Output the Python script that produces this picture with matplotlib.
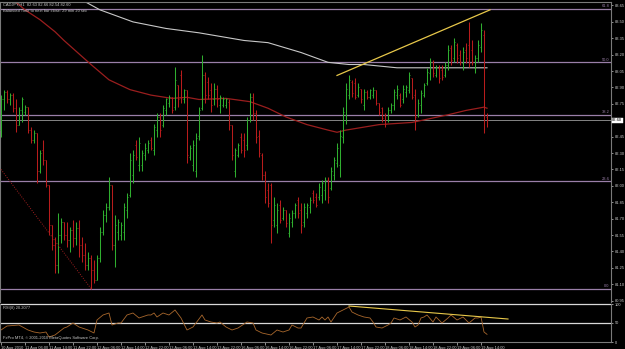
import matplotlib
matplotlib.use("Agg")
import matplotlib.pyplot as plt
import numpy as np

plt.rcParams["font.family"] = ["Liberation Sans", "DejaVu Sans"]

# ---------------- data (CADJPY H1, bar 0 = 10 Aug 2010 22:00) ----------------
opens = [82.51, 82.79, 82.86, 82.79, 82.83, 82.71, 82.56, 82.69, 82.68, 82.72,
         82.51, 82.42, 82.48, 82.14, 82.33, 82.24, 82.01, 81.64, 81.46, 81.28,
         81.55, 81.67, 81.55, 81.50, 81.60, 81.52, 81.61, 81.46, 81.37, 81.28,
         81.34, 81.23, 81.14, 81.34, 81.58, 81.73, 81.81, 82.01, 81.46, 81.58,
         81.55, 81.58, 81.78, 81.92, 82.10, 82.37, 82.19, 82.19, 82.28, 82.33,
         82.42, 82.33, 82.51, 82.63, 82.56, 82.69, 82.76, 82.81, 82.72, 82.92,
         83.01, 82.79, 82.88, 82.26, 82.19, 82.14, 82.46, 82.71, 83.01, 82.95,
         82.88, 82.79, 82.89, 82.74, 82.74, 82.74, 82.77, 82.56, 82.14, 82.28,
         82.45, 82.42, 82.37, 82.60, 82.81, 82.67, 82.46, 82.28, 82.10, 81.96,
         82.01, 81.69, 81.64, 81.82, 81.71, 81.78, 81.57, 81.67, 81.75, 81.87,
         81.78, 81.67, 81.75, 81.81, 81.93, 81.90, 81.90, 81.92, 81.96, 82.05,
         81.98, 82.10, 82.21, 82.19, 82.45, 82.65, 82.83, 82.95, 82.94, 82.83,
         82.89, 82.74, 82.86, 82.81, 82.83, 82.88, 82.76, 82.71, 82.65, 82.60,
         82.69, 82.74, 82.83, 82.83, 82.79, 82.86, 82.88, 82.99, 82.83, 82.65,
         82.74, 82.83, 82.94, 83.03, 83.13, 83.01, 83.08, 83.06, 83.01, 83.11,
         83.26, 83.17, 83.29, 83.20, 83.12, 83.24, 83.29, 83.24, 83.08, 83.17,
         83.27, 83.38, 82.63]
highs = [82.83, 82.88, 82.88, 82.85, 82.85, 82.79, 82.72, 82.81, 82.74, 82.72,
         82.54, 82.51, 82.48, 82.33, 82.42, 82.24, 82.01, 81.64, 81.53, 81.75,
         81.71, 81.67, 81.67, 81.62, 81.69, 81.67, 81.69, 81.53, 81.48, 81.39,
         81.37, 81.32, 81.37, 81.62, 81.78, 81.84, 82.08, 82.01, 81.73, 81.70,
         81.67, 81.84, 81.93, 82.30, 82.33, 82.42, 82.45, 82.33, 82.39, 82.42,
         82.45, 82.57, 82.67, 82.67, 82.74, 82.80, 82.83, 82.81, 83.09, 82.92,
         83.06, 82.89, 82.88, 82.37, 82.42, 82.48, 82.72, 83.20, 83.04, 83.00,
         82.94, 82.94, 82.92, 82.83, 82.81, 82.80, 82.79, 82.56, 82.35, 82.39,
         82.48, 82.48, 82.63, 82.85, 82.85, 82.69, 82.51, 82.30, 82.14, 82.03,
         82.03, 81.90, 81.84, 81.87, 81.81, 81.78, 81.75, 81.78, 81.84, 81.90,
         81.84, 81.84, 81.84, 81.90, 81.96, 81.93, 82.03, 82.05, 82.08, 82.08,
         82.17, 82.26, 82.39, 82.51, 82.72, 82.94, 83.01, 82.97, 82.99, 82.94,
         82.89, 82.89, 82.88, 82.89, 82.90, 82.88, 82.76, 82.72, 82.67, 82.72,
         82.76, 82.89, 82.92, 82.85, 82.92, 82.92, 83.04, 82.99, 82.89, 82.79,
         82.88, 82.94, 83.08, 83.17, 83.15, 83.11, 83.11, 83.11, 83.13, 83.29,
         83.29, 83.35, 83.31, 83.24, 83.27, 83.31, 83.50, 83.33, 83.20, 83.33,
         83.49, 83.43, 82.67]
lows = [82.45, 82.69, 82.76, 82.74, 82.68, 82.49, 82.56, 82.58, 82.65, 82.48,
        82.39, 82.39, 82.03, 82.12, 82.19, 81.99, 81.55, 81.41, 81.20, 81.20,
        81.48, 81.50, 81.44, 81.39, 81.44, 81.46, 81.35, 81.30, 81.23, 81.23,
        81.06, 81.11, 81.14, 81.30, 81.55, 81.67, 81.78, 81.41, 81.26, 81.50,
        81.50, 81.50, 81.71, 81.90, 82.03, 82.24, 82.14, 82.14, 82.24, 82.30,
        82.33, 82.28, 82.45, 82.45, 82.54, 82.65, 82.72, 82.67, 82.69, 82.72,
        82.76, 82.76, 82.21, 82.24, 82.14, 82.08, 82.42, 82.69, 82.76, 82.79,
        82.68, 82.74, 82.72, 82.67, 82.72, 82.71, 82.51, 82.24, 82.08, 82.26,
        82.30, 82.26, 82.33, 82.58, 82.60, 82.39, 82.26, 82.05, 81.84, 81.81,
        81.48, 81.62, 81.57, 81.66, 81.69, 81.62, 81.53, 81.62, 81.71, 81.71,
        81.57, 81.62, 81.71, 81.75, 81.84, 81.81, 81.87, 81.84, 81.87, 81.84,
        81.96, 82.05, 82.17, 82.08, 82.39, 82.57, 82.79, 82.81, 82.79, 82.81,
        82.76, 82.69, 82.79, 82.79, 82.80, 82.74, 82.65, 82.58, 82.54, 82.58,
        82.67, 82.69, 82.79, 82.72, 82.76, 82.81, 82.85, 82.79, 82.51, 82.63,
        82.67, 82.81, 82.92, 82.97, 83.00, 83.00, 82.94, 82.97, 83.00, 83.06,
        83.11, 83.13, 83.12, 83.11, 83.06, 83.12, 83.09, 83.11, 83.03, 83.13,
        83.22, 82.48, 82.54]
closes = [82.79, 82.86, 82.79, 82.83, 82.71, 82.56, 82.69, 82.79, 82.72, 82.51,
          82.42, 82.48, 82.14, 82.30, 82.24, 82.01, 81.64, 81.46, 81.28, 81.55,
          81.67, 81.55, 81.50, 81.60, 81.52, 81.61, 81.46, 81.37, 81.28, 81.34,
          81.23, 81.14, 81.34, 81.58, 81.73, 81.81, 82.01, 81.46, 81.64, 81.67,
          81.64, 81.81, 81.90, 82.24, 82.28, 82.26, 82.39, 82.30, 82.35, 82.39,
          82.35, 82.54, 82.63, 82.51, 82.71, 82.79, 82.81, 82.69, 82.97, 82.79,
          82.81, 82.88, 82.28, 82.35, 82.37, 82.44, 82.69, 83.01, 82.83, 82.83,
          82.74, 82.89, 82.79, 82.81, 82.79, 82.79, 82.56, 82.28, 82.33, 82.37,
          82.33, 82.33, 82.60, 82.81, 82.67, 82.45, 82.30, 82.10, 81.90, 81.84,
          81.64, 81.82, 81.78, 81.69, 81.78, 81.66, 81.71, 81.75, 81.82, 81.75,
          81.64, 81.81, 81.82, 81.87, 81.87, 81.82, 81.99, 82.03, 82.05, 81.90,
          82.14, 82.24, 82.35, 82.46, 82.68, 82.89, 82.97, 82.85, 82.81, 82.90,
          82.79, 82.86, 82.81, 82.88, 82.88, 82.76, 82.68, 82.62, 82.57, 82.69,
          82.74, 82.86, 82.89, 82.74, 82.89, 82.90, 83.01, 82.81, 82.63, 82.76,
          82.85, 82.92, 83.04, 83.13, 83.03, 83.09, 82.99, 83.00, 83.11, 83.24,
          83.15, 83.32, 83.17, 83.13, 83.22, 83.17, 83.12, 83.13, 83.17, 83.29,
          83.43, 82.65, 82.60]

# moving averages, sampled at bar indices
ma_slow_idx = [22, 27, 33, 44, 55, 66, 81, 89, 100, 109, 116, 121, 132, 143, 154, 162]
ma_slow_val = [83.76, 83.70, 83.61, 83.50, 83.44, 83.40, 83.33, 83.31, 83.22, 83.13,
               83.11, 83.11, 83.08, 83.08, 83.08, 83.08]
ma_fast_idx = [5, 8, 13, 18, 21, 30, 36, 43, 50, 57, 62, 66, 75, 83, 89, 95, 102, 109,
               112, 115, 126, 137, 149, 155, 161, 162]
ma_fast_val = [83.68, 83.61, 83.52, 83.41, 83.33, 83.11, 82.97, 82.88, 82.83, 82.80,
               82.81, 82.79, 82.80, 82.77, 82.71, 82.63, 82.56, 82.51, 82.49, 82.51,
               82.56, 82.58, 82.65, 82.69, 82.72, 82.71]

# RSI(8), sampled at bar indices
rsi_idx = [0, 2, 6, 9, 11, 13, 15, 16, 18, 21, 22, 24, 26, 29, 31, 32, 34, 36, 37, 39,
           40, 42, 44, 46, 49, 50, 51, 52, 54, 56, 58, 60, 62, 64, 67, 68, 70, 72, 73, 75,
           77, 79, 82, 84, 85, 87, 90, 92, 94, 96, 97, 99, 100, 102, 104, 106, 107, 108, 109, 110,
           112, 114, 116, 117, 119, 121, 123, 124, 125, 127, 129, 130, 131, 133, 135, 137, 138, 139, 140, 141,
           142, 144, 145, 147, 149, 150, 152, 154, 155, 156, 158, 159, 160, 161, 162]
rsi_val = [31.6, 42.1, 44.7, 31.6, 26.3, 23.7, 26.3, 13.2, 18.4, 36.8,
           39.5, 50.0, 39.5, 31.6, 23.7, 57.9, 71.1, 76.3, 44.7, 50.0,
           50.0, 71.1, 76.3, 63.2, 71.1, 71.1, 76.3, 65.8, 76.3, 71.1,
           84.2, 63.2, 31.6, 39.5, 71.1, 57.9, 52.6, 50.0, 52.6, 39.5,
           31.6, 36.8, 52.6, 50.0, 31.6, 23.7, 18.4, 31.6, 26.3, 31.6,
           44.7, 36.8, 36.8, 63.2, 65.8, 57.9, 65.8, 57.9, 65.8, 52.6,
           76.3, 84.2, 92.1, 78.9, 71.1, 65.8, 63.2, 52.6, 39.5, 36.8,
           44.7, 50.0, 63.2, 57.9, 65.8, 52.6, 39.5, 44.7, 63.2, 65.8,
           71.1, 52.6, 65.8, 50.0, 63.2, 71.1, 57.9, 65.8, 57.9, 50.0,
           63.2, 63.2, 66.0, 26.3, 20.2]

fib_labels = ["61.8", "50.0", "38.2", "23.6", "0.0"]
fib_prices = [83.62, 83.13, 82.65, 82.04, 81.06]
bid_price = 82.60

trend_up_idx, trend_up_val = [112, 163], [83.01, 83.61]
trend_dn_idx, trend_dn_val = [0, 30], [82.15, 81.06]
rsi_trend_idx, rsi_trend_val = [116, 169], [94.7, 60.5]

price_ticks = [83.65, 83.50, 83.35, 83.20, 83.05, 82.90, 82.75, 82.45, 82.30, 82.15,
               82.00, 81.85, 81.70, 81.55, 81.40, 81.25, 81.10, 80.95]
time_tick_bars = [0, 8, 16, 24, 32, 40, 48, 56, 64, 72, 80, 88, 96, 104, 112, 120,
                  128, 136, 144, 152, 160]
time_tick_labels = ["10 Aug 2010", "11 Aug 06:00", "11 Aug 14:00", "11 Aug 22:00",
                    "12 Aug 06:00", "12 Aug 14:00", "12 Aug 22:00", "13 Aug 06:00",
                    "13 Aug 14:00", "13 Aug 22:00", "16 Aug 06:00", "16 Aug 14:00",
                    "16 Aug 22:00", "17 Aug 06:00", "17 Aug 14:00", "17 Aug 22:00",
                    "18 Aug 06:00", "18 Aug 14:00", "18 Aug 22:00", "19 Aug 06:00",
                    "19 Aug 14:00"]
rsi_ticks = [0, 50, 100]

# ---------------- figure ----------------
W, H = 625, 349
fig = plt.figure(figsize=(W / 100, H / 100), dpi=100, facecolor="black")


def rect(x0, y0, x1, y1):
    return [x0 / W, 1 - y1 / H, (x1 - x0) / W, (y1 - y0) / H]


TXT = "#c8c8c8"
FS = 2.9
GREEN = "#2fae2f"
RED = "#b81c1c"
FIB = "#9a7fa8"
YEL = "#e8c84a"

ax = fig.add_axes(rect(0, 2, 611, 302), facecolor="black")
rax = fig.add_axes(rect(0, 304, 611, 342), facecolor="black")
XL = (-0.33, 203.33)
YL = (80.937, 83.682)
for a in (ax, rax):
    a.set_xlim(*XL)
    for s in a.spines.values():
        s.set_color("#7a7a7a")
        s.set_linewidth(0.8)
ax.set_ylim(*YL)
ax.spines["bottom"].set_visible(False)

idx = np.arange(len(closes))
o, h, l, c = map(np.asarray, (opens, highs, lows, closes))
cols = np.where(c > o, GREEN, RED)

# reference lines
for lab, p in zip(fib_labels, fib_prices):
    ax.axhline(p, color=FIB, lw=0.9, zorder=1)
    ax.text(202.8, p + 0.006, lab, color=FIB, fontsize=FS, ha="right", va="bottom")
ax.axhline(bid_price, color="#9a9a9a", lw=0.6, zorder=1)

# moving averages
ax.plot(ma_slow_idx, ma_slow_val, color="#c8c8c8", lw=0.8, zorder=2)
ax.plot(ma_fast_idx, ma_fast_val, color="#9a1e1e", lw=0.9, zorder=2)

# bars
ax.vlines(idx, l, h, colors=cols, lw=0.75, zorder=3)
ax.hlines(o, idx - 0.4, idx, colors=cols, lw=0.6, zorder=3)
ax.hlines(c, idx, idx + 0.4, colors=cols, lw=0.6, zorder=3)

# trend lines
ax.plot(trend_up_idx, trend_up_val, color=YEL, lw=0.9, zorder=4)
ax.plot(trend_dn_idx, trend_dn_val, color="#a02020", lw=0.7, ls=(0, (1, 1.5)), zorder=4)

# price axis
ax.set_xticks([])
ax.yaxis.tick_right()
ax.set_yticks(price_ticks)
ax.set_yticklabels([f"{v:.2f}" for v in price_ticks])
ax.tick_params(axis="y", colors=TXT, labelsize=FS, length=1.5, width=0.5, pad=1)
ax.text(1.002, (bid_price - YL[0]) / (YL[1] - YL[0]), f"{bid_price:.2f}",
        transform=ax.transAxes, fontsize=FS, color="black", ha="left", va="center",
        bbox=dict(boxstyle="square,pad=0.12", fc="white", ec="white", lw=0.3),
        clip_on=False)

# RSI panel
rax.set_ylim(0, 100)
rax.axhline(100, color="#d8d8d8", lw=0.9, clip_on=False)
rax.axhline(50, color="#d8d8d8", lw=0.9)
rax.plot(rsi_idx, rsi_val, color="#a8672c", lw=0.6)
rax.plot(rsi_trend_idx, rsi_trend_val, color=YEL, lw=0.8)
rax.spines["top"].set_visible(False)
rax.yaxis.tick_right()
rax.set_yticks(rsi_ticks)
rax.set_yticklabels([str(v) for v in rsi_ticks])
rax.tick_params(axis="y", colors=TXT, labelsize=FS, length=1.5, width=0.5, pad=1)
rax.set_xticks(time_tick_bars)
rax.set_xticklabels(time_tick_labels)
rax.tick_params(axis="x", colors=TXT, labelsize=FS, length=2, width=0.5, pad=0.6)
for t in rax.get_xticklabels():
    t.set_ha("left")

# header / footer texts
fig.text(3 / W, 1 - 5 / H, "CADJPY,H1  82.63 82.66 82.54 82.60", color=TXT,
         fontsize=FS, va="center", ha="left")
fig.text(3 / W, 1 - 11 / H, "Balanced Time to next bar close: 29 min 20 sec", color=TXT,
         fontsize=FS, va="center", ha="left")
fig.text(3 / W, 1 - 308.5 / H, "RSI(8) 20.2077", color=TXT, fontsize=FS,
         va="center", ha="left")
fig.text(3 / W, 1 - 338 / H, "FxPro MT4, \u00a9 2001-2010 MetaQuotes Software Corp.",
         color=TXT, fontsize=FS, va="center", ha="left")

fig.savefig("out.png", dpi=100, facecolor="black")
